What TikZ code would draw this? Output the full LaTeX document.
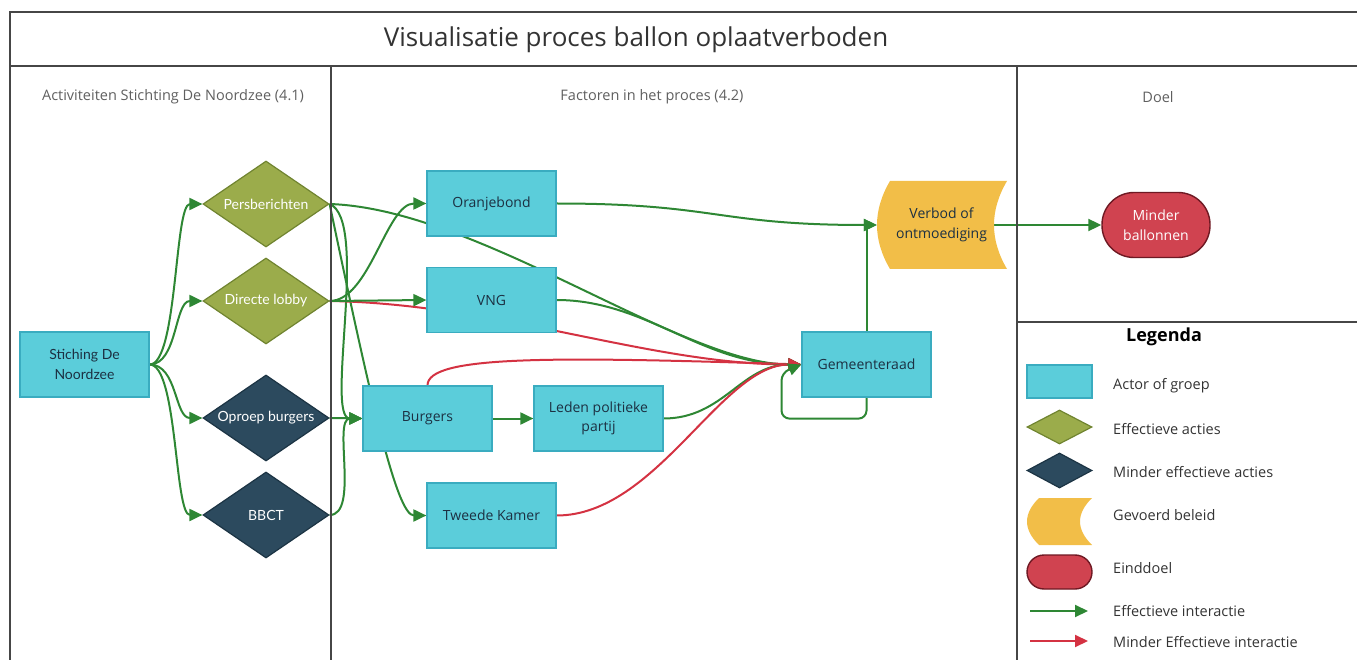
\documentclass[tikz,border=0pt]{standalone}
\usepackage{fontspec}
\setmainfont{Open Sans}
\newfontfamily\latofont{Lato}
\usetikzlibrary{shapes.geometric,arrows.meta,backgrounds}

\definecolor{actorblauw}{RGB}{91,205,218}
\definecolor{actorrand}{RGB}{58,172,192}
\definecolor{actiegroen}{RGB}{155,172,75}
\definecolor{actierand}{RGB}{112,132,48}
\definecolor{zwakblauw}{RGB}{44,74,94}
\definecolor{zwakrand}{RGB}{28,52,68}
\definecolor{beleidgeel}{RGB}{242,190,72}
\definecolor{doelrood}{RGB}{208,67,80}
\definecolor{doelrand}{RGB}{110,25,35}
\definecolor{pijlgroen}{RGB}{46,135,52}
\definecolor{pijlrood}{RGB}{212,50,66}
\definecolor{tekstdonker}{RGB}{28,48,66}
\definecolor{kaderlijn}{RGB}{70,70,70}
\definecolor{kopgrijs}{RGB}{95,95,95}

% gevoerd beleid: links bol, rechts hol
\newcommand{\beleidvorm}[5]{%
  \fill[beleidgeel] ({#1+#5},#2) -- (#3,#2)
    .. controls ({#3-4*#5/3},{#2+(#4-#2)/3}) and ({#3-4*#5/3},{#4-(#4-#2)/3}) .. (#3,#4)
    -- ({#1+#5},#4)
    .. controls ({#1-#5/3},{#4-(#4-#2)/3}) and ({#1-#5/3},{#2+(#4-#2)/3}) .. cycle;}

\tikzset{
  actor/.style={draw=actorrand, fill=actorblauw, line width=1.2pt, minimum width=129pt,
    minimum height=65pt, align=center, text=tekstdonker, font=\fontsize{14pt}{19pt}\selectfont},
  actie/.style={diamond, aspect=1.47, draw=actierand, fill=actiegroen, line width=1.2pt,
    minimum width=126pt, minimum height=86pt, inner sep=0pt, text=white,
    font=\latofont\fontsize{14pt}{17pt}\selectfont},
  zwakactie/.style={actie, draw=zwakrand, fill=zwakblauw},
  beleid/.style={minimum width=129pt, minimum height=88pt, align=center, text=tekstdonker,
    font=\fontsize{14pt}{20pt}\selectfont},
  einddoel/.style={draw=doelrand, fill=doelrood, line width=1.4pt, rounded corners=32pt,
    minimum width=108pt, minimum height=65pt, align=center, text=white,
    font=\fontsize{14pt}{20pt}\selectfont},
  effectief/.style={draw=pijlgroen, line width=2pt, -{Triangle[length=13pt,width=12pt]}},
  mindereffectief/.style={effectief, draw=pijlrood},
  kop/.style={text=kopgrijs, font=\fontsize{14.5pt}{17pt}\selectfont},
  legtekst/.style={anchor=west, inner sep=0pt, text=black!80, font=\fontsize{14.5pt}{17pt}\selectfont},
}

\begin{document}
\begin{tikzpicture}[x=1pt, y=-1pt]
    \useasboundingbox (0,0) rectangle (1357,660);

    % kader
    \draw[kaderlijn, line width=1.8pt] (10,660) -- (10,12) -- (1357,12);
    \draw[kaderlijn, line width=1.8pt] (10,66) -- (1357,66);
    \draw[kaderlijn, line width=1.8pt] (331,66) -- (331,660);
    \draw[kaderlijn, line width=1.8pt] (1017,66) -- (1017,660);
    \draw[kaderlijn, line width=1.8pt] (1017,322) -- (1357,322);

    \node[text=black!80, font=\fontsize{26pt}{30pt}\selectfont] (titel) at (636,40) {Visualisatie proces ballon oplaatverboden};
    \node[kop] (kop1) at (173,97) {Activiteiten Stichting De Noordzee (4.1)};
    \node[kop] (kop2) at (652,97) {Factoren in het proces (4.2)};
    \node[kop] (kop3) at (1158,97) {Doel};

    % activiteiten
    \node[actor, font=\latofont\fontsize{14pt}{20pt}\selectfont] (stichting) at (84.5,364.5) {Stiching De\\Noordzee};
    \node[actie] (pers) at (266,204) {Persberichten};
    \node[actie] (lobby) at (266,301) {Directe lobby};
    \node[zwakactie] (oproep) at (266,418) {Oproep burgers};
    \node[zwakactie] (bbct) at (266,515) {BBCT};

    % factoren
    \node[actor] (oranjebond) at (491.5,203.5) {Oranjebond};
    \node[actor] (vng) at (491.5,300) {VNG};
    \node[actor] (burgers) at (427.5,418.5) {Burgers};
    \node[actor] (leden) at (598.5,418.5) {Leden politieke\\partij};
    \node[actor] (kamer) at (491.5,515.5) {Tweede Kamer};
    \node[actor] (raad) at (866.5,364.5) {Gemeenteraad};

    % doel
    \beleidvorm{877}{181}{1007}{269}{13}
    \node[beleid] (verbod) at (941.5,225) {Verbod of\\ontmoediging};
    \node[einddoel] (minder) at (1156,225) {Minder\\ballonnen};

    % legenda
    \node[font=\bfseries\fontsize{18pt}{22pt}\selectfont] (legenda) at (1164,337) {Legenda};
    \node[actor, minimum width=65pt, minimum height=33pt] (lactor) at (1059.5,381.5) {};
    \node[actie, minimum width=65pt, minimum height=34pt] (lactie) at (1059.5,427) {};
    \node[zwakactie, minimum width=65pt, minimum height=35pt] (lzwak) at (1059.5,470.5) {};
    \beleidvorm{1027}{498}{1092}{545}{12}
    \node[einddoel, rounded corners=17pt, minimum width=65pt, minimum height=34pt] (ldoel) at (1059.5,572) {};
    \coordinate (lgroen1) at (1030,611);
    \coordinate (lgroen2) at (1088,611);
    \coordinate (lrood1) at (1030,641);
    \coordinate (lrood2) at (1088,641);
    \draw[effectief] (lgroen1) -- (lgroen2);
    \draw[mindereffectief] (lrood1) -- (lrood2);
    \node[legtekst] (t1) at (1113,386) {Actor of groep};
    \node[legtekst] (t2) at (1113,429) {Effectieve acties};
    \node[legtekst] (t3) at (1113,472) {Minder effectieve acties};
    \node[legtekst] (t4) at (1113,515) {Gevoerd beleid};
    \node[legtekst] (t5) at (1113,568) {Einddoel};
    \node[legtekst] (t6) at (1113,611) {Effectieve interactie};
    \node[legtekst] (t7) at (1113,642) {Minder Effectieve interactie};

    \begin{scope}[on background layer]
    \draw[effectief] (stichting.east) .. controls +(28,0) and +(-28,0) .. (pers.west);
    \draw[effectief] (stichting.east) .. controls +(28,0) and +(-28,0) .. (lobby.west);
    \draw[effectief] (stichting.east) .. controls +(28,0) and +(-28,0) .. (oproep.west);
    \draw[effectief] (stichting.east) .. controls +(28,0) and +(-28,0) .. (bbct.west);

    \draw[effectief] (pers.east) .. controls +(150,5) and +(-120,0) .. (raad.west);
    \draw[effectief] (pers.east) .. controls +(40,16) and +(-38,0) .. (burgers.west);
    \draw[effectief] (pers.east) .. controls +(40,190) and +(-30,0) .. (kamer.west);
    \draw[effectief] (lobby.east) .. controls +(40,0) and +(-40,0) .. (oranjebond.west);
    \draw[mindereffectief] (lobby.east) .. controls +(170,3) and +(-152,0) .. (raad.west);
    \draw[effectief] (lobby.east) -- (vng.west);
    \draw[effectief] (oproep.east) -- (burgers.west);
    \draw[effectief] (bbct.east) .. controls +(30,0) and +(-30,0) .. (burgers.west);

    \draw[effectief] (oranjebond.east) .. controls +(160,0) and +(-160,0) .. (verbod.west);
    \draw[effectief] (vng.east) .. controls +(90,0) and +(-100,0) .. (raad.west);
    \draw[mindereffectief] (burgers.north) .. controls +(0,-30) and +(-250,-8) .. (raad.west);
    \draw[effectief] (burgers.east) -- (leden.west);
    \draw[effectief] (leden.east) .. controls +(60,0) and +(-60,0) .. (raad.west);
    \draw[mindereffectief] (kamer.east) .. controls +(100,0) and +(-80,0) .. (raad.west);

    \draw[effectief] (raad.north) |- (verbod.west);
    \draw[effectief, rounded corners=8pt] (raad.south) -- ++(0,21) -- ++(-85,0) -- ++(0,-46) -- (raad.west);
    \draw[effectief] ([xshift=-13pt]verbod.east) -- (minder.west);
    \end{scope}
\end{tikzpicture}
\end{document}
